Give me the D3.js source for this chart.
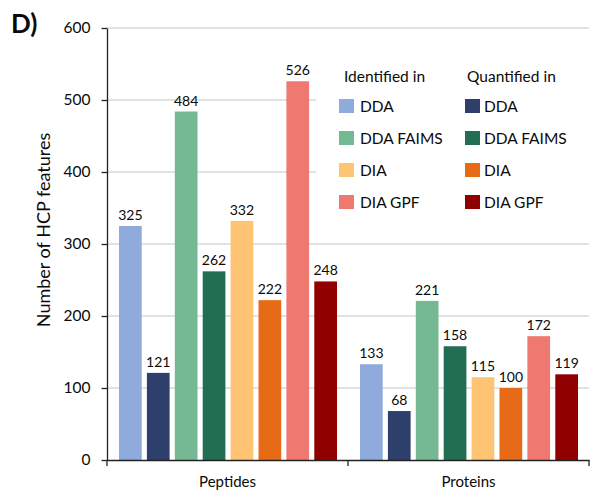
<!DOCTYPE html>
<html><head><meta charset="utf-8">
<script src="https://cdn.jsdelivr.net/npm/d3@7"></script>
<style>body{margin:0;background:#fff}svg{display:block}text{font-family:Lato,"Open Sans",sans-serif;fill:#0a0a0a}</style>
</head><body><svg id="c" width="590" height="500"></svg>
<script>
const categories = ["Peptides", "Proteins"];
const seriesNames = ["Identified DDA","Quantified DDA","Identified DDA FAIMS","Quantified DDA FAIMS","Identified DIA","Quantified DIA","Identified DIA GPF","Quantified DIA GPF"];
const peptides = [325, 121, 484, 262, 332, 222, 526, 248];
const proteins = [133, 68, 221, 158, 115, 100, 172, 119];
const seriesColors = ["#8FAADC","#2F3F6C","#74B994","#226E53","#FFC374","#E76B16","#EF7870","#900000"];
const legendMethods = ["DDA","DDA FAIMS","DIA","DIA GPF"];
const yTicks = [0,100,200,300,400,500,600];

const svg = d3.select("#c");
const M = {l:107, r:589, t:28, b:460};
const y = d3.scaleLinear().domain([0,600]).range([M.b, M.t]);
const x0 = d3.scaleBand().domain(categories).range([M.l, M.r]);
const x1 = d3.scaleBand().domain(seriesNames).range([12, x0.bandwidth()-11]).paddingInner(0.186);

// gridlines
svg.append("g").selectAll("line").data(yTicks.filter(d=>d>0)).join("line")
  .attr("x1", M.l).attr("x2", M.r).attr("y1", d=>y(d)).attr("y2", d=>y(d))
  .attr("stroke", "#D9D9D9").attr("stroke-width", 1.3);

// legend background
svg.append("rect").attr("x", 316).attr("y", 45).attr("width", 274).attr("height", 180).attr("fill", "#fff");

const dataByCat = {Peptides: peptides, Proteins: proteins};
const g = svg.append("g");
categories.forEach(cat => {
  const vals = dataByCat[cat];
  const gg = g.append("g").attr("transform", `translate(${x0(cat)},0)`);
  gg.selectAll("rect").data(vals).join("rect")
    .attr("x", (d,i)=>x1(seriesNames[i])).attr("width", x1.bandwidth())
    .attr("y", d=>y(d)).attr("height", d=>y(0)-y(d))
    .attr("fill", (d,i)=>seriesColors[i]);
  gg.selectAll("text").data(vals).join("text")
    .attr("x", (d,i)=>x1(seriesNames[i]) + x1.bandwidth()/2)
    .attr("y", d=>y(d)-6).attr("text-anchor","middle")
    .attr("font-size", 14).text(d=>d);
});

// y axis
const ya = svg.append("g").attr("transform", `translate(${M.l},0)`)
  .call(d3.axisLeft(y).tickValues(yTicks).tickSize(5.5).tickPadding(11).tickSizeOuter(0));
ya.select(".domain").attr("stroke", "#222").attr("stroke-width", 1.3);
ya.selectAll(".tick line").attr("stroke", "#222").attr("stroke-width", 1.3);
ya.selectAll(".tick text").attr("font-size", 15.5).attr("font-family", "Lato").attr("fill", "#0a0a0a");

// x axis
const xa = svg.append("g").attr("transform", `translate(0,${M.b})`)
  .call(d3.axisBottom(x0).tickSize(0).tickPadding(16));
xa.select(".domain").attr("stroke", "#222").attr("stroke-width", 1.3);
xa.selectAll(".tick text").attr("font-size", 15).attr("font-family", "Lato").attr("fill", "#0a0a0a");
const bounds = [M.l].concat(categories.map(c=>x0(c)+x0.bandwidth()));
svg.append("g").selectAll("line").data(bounds).join("line")
  .attr("x1", d=>d).attr("x2", d=>d).attr("y1", M.b).attr("y2", M.b+6)
  .attr("stroke", "#222").attr("stroke-width", 1.3);

// y title
svg.append("text").attr("transform", "translate(50,230) rotate(-90)")
  .attr("text-anchor","middle").attr("font-size", 18).text("Number of HCP features");

// panel label
svg.append("text").attr("x", 11).attr("y", 33).attr("font-size", 26).attr("font-weight", "bold").text("D)");

// legend
const lg = svg.append("g");
lg.append("text").attr("x", 344).attr("y", 82).attr("font-size", 15.5).text("Identified in");
lg.append("text").attr("x", 467).attr("y", 82).attr("font-size", 15.5).text("Quantified in");
legendMethods.forEach((m,i) => {
  const cy = 106 + i*32;
  [0,1].forEach(k => {
    const sx = k===0 ? 339 : 465;
    lg.append("rect").attr("x", sx).attr("y", cy-7).attr("width", 15).attr("height", 14)
      .attr("fill", seriesColors[i*2+k]);
    lg.append("text").attr("x", sx + (k===0?21:19)).attr("y", cy+5.5).attr("font-size", 15.5).text(m);
  });
});
</script></body></html>
